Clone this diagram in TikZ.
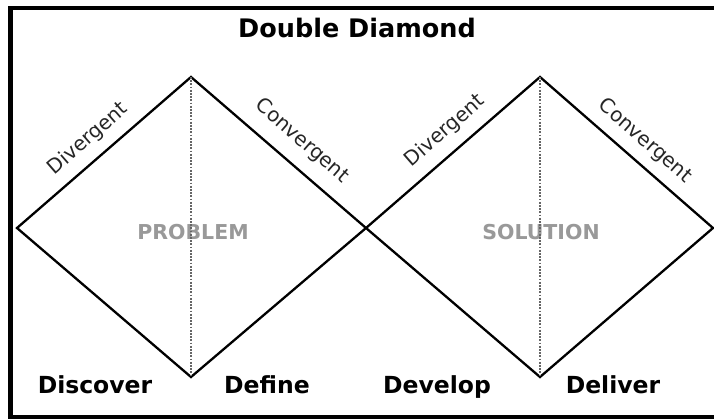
\documentclass[tikz,border=0pt]{standalone}
\usepackage{fontspec}
\setmainfont{DejaVu Sans}
\begin{document}
\begin{tikzpicture}[x=1pt,y=-1pt,
  edge/.style={line width=2.3pt, line join=miter},
  axisline/.style={line width=1.5pt, draw=black!60, dash pattern=on 1.8pt off 1.4pt},
  sidelabel/.style={font=\fontsize{20}{23}\selectfont, text=black!85, inner sep=0pt},
  phase/.style={font=\fontsize{23.5}{28}\selectfont\bfseries, inner sep=0pt, anchor=base},
  spacelabel/.style={font=\fontsize{20.5}{24}\selectfont\bfseries, text=black!40, inner sep=0pt},
  titlelabel/.style={font=\fontsize{25.5}{30}\selectfont\bfseries, inner sep=0pt, anchor=base}]
\clip (0,0) rectangle (714,418);
\fill[white] (0,0) rectangle (714,418);
\draw[line width=4.5pt] (10.5,8) rectangle (740,417.5);
\coordinate (L1) at (17,228);
\coordinate (T1) at (191,77);
\coordinate (B1) at (191,377);
\coordinate (M) at (366,228);
\coordinate (T2) at (540,77);
\coordinate (B2) at (540,377);
\coordinate (R2) at (713,228);
\draw[edge] (L1) -- (T1) -- (M) -- (B1) -- cycle;
\draw[edge] (M) -- (T2) -- (R2) -- (B2) -- cycle;
\node[titlelabel] (title) at (357,37) {Double Diamond};
\node[sidelabel, rotate=41] (div1) at (88,139) {Divergent};
\node[sidelabel, rotate=-41] (con1) at (302,141) {Convergent};
\node[sidelabel, rotate=41] (div2) at (445,131) {Divergent};
\node[sidelabel, rotate=-41] (con2) at (645,141) {Convergent};
\node[spacelabel] (prob) at (193,232.5) {PROBLEM};
\node[spacelabel] (sol) at (541,232.5) {SOLUTION};
\draw[axisline] (T1) -- (B1);
\draw[axisline] (T2) -- (B2);
\node[phase] (disc) at (95,393) {Discover};
\node[phase] (defi) at (267,393) {Define};
\node[phase] (deve) at (437,393) {Develop};
\node[phase] (deli) at (613,393) {Deliver};
\end{tikzpicture}
\end{document}
